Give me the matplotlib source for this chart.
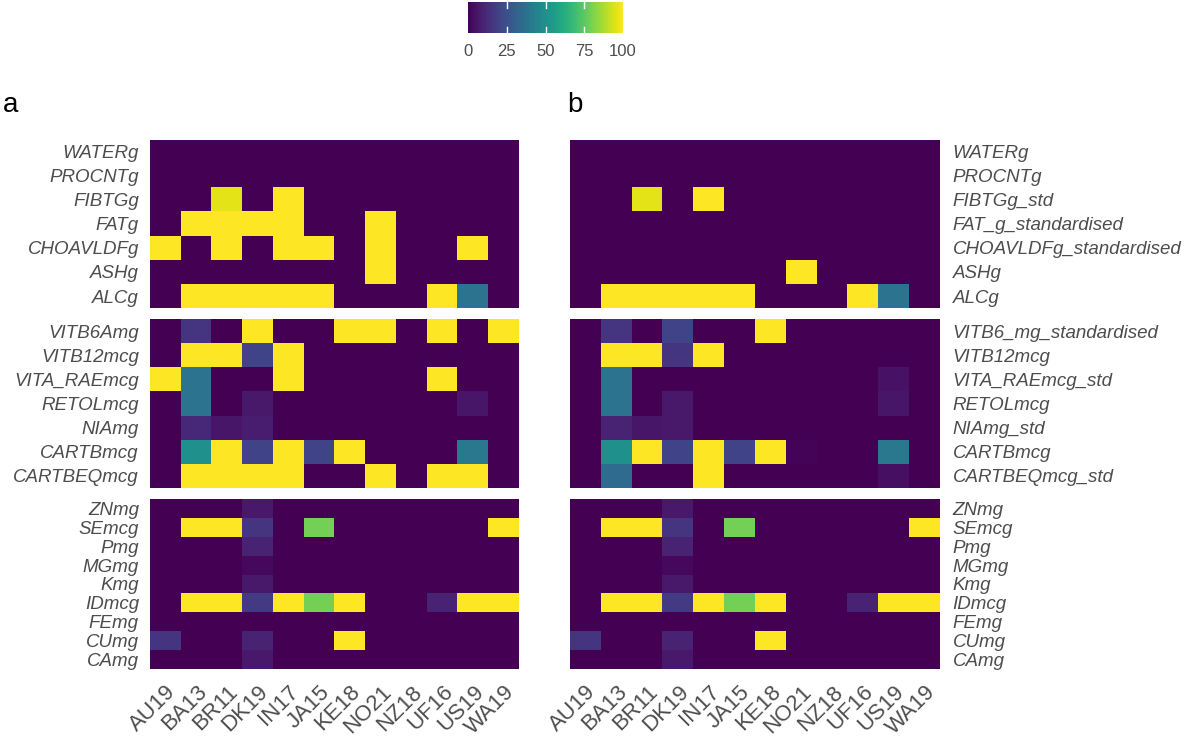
import numpy as np
import matplotlib
matplotlib.use("Agg")
import matplotlib.pyplot as plt

plt.rcParams['font.family'] = ['Liberation Sans', 'DejaVu Sans']

surveys = ['AU19', 'BA13', 'BR11', 'DK19', 'IN17', 'JA15', 'KE18',
           'NO21', 'NZ18', 'UF16', 'US19', 'WA19']

# panel a row names
rows_a1 = ['WATERg', 'PROCNTg', 'FIBTGg', 'FATg', 'CHOAVLDFg', 'ASHg', 'ALCg']
rows_a2 = ['VITB6Amg', 'VITB12mcg', 'VITA_RAEmcg', 'RETOLmcg', 'NIAmg',
           'CARTBmcg', 'CARTBEQmcg']
rows_3 = ['ZNmg', 'SEmcg', 'Pmg', 'MGmg', 'Kmg', 'IDmcg', 'FEmg', 'CUmg', 'CAmg']

# panel b row names
rows_b1 = ['WATERg', 'PROCNTg', 'FIBTGg_std', 'FAT_g_standardised',
           'CHOAVLDFg_standardised', 'ASHg', 'ALCg']
rows_b2 = ['VITB6_mg_standardised', 'VITB12mcg', 'VITA_RAEmcg_std', 'RETOLmcg',
           'NIAmg_std', 'CARTBmcg', 'CARTBEQmcg_std']

# % missing, one list per row, columns follow `surveys`
vals_a1 = [
    [0, 0, 0, 0, 0, 0, 0, 0, 0, 0, 0, 0],
    [0, 0, 0, 0, 0, 0, 0, 0, 0, 0, 0, 0],
    [0, 0, 96, 0, 100, 0, 0, 0, 0, 0, 0, 0],
    [0, 100, 100, 100, 100, 0, 0, 100, 0, 0, 0, 0],
    [100, 0, 100, 0, 100, 100, 0, 100, 0, 0, 100, 0],
    [0, 0, 0, 0, 0, 0, 0, 100, 0, 0, 0, 0],
    [0, 100, 100, 100, 100, 100, 0, 0, 0, 100, 38, 0],
]
vals_a2 = [
    [0, 15, 0, 100, 0, 0, 100, 100, 0, 100, 0, 100],
    [0, 100, 100, 20, 100, 0, 0, 0, 0, 0, 0, 0],
    [100, 38, 0, 0, 100, 0, 0, 0, 0, 100, 0, 0],
    [0, 38, 0, 7, 0, 0, 0, 0, 0, 0, 6, 0],
    [0, 11, 6, 8, 0, 0, 0, 0, 0, 0, 0, 0],
    [0, 50, 100, 20, 100, 20, 100, 0, 0, 0, 40, 0],
    [0, 100, 100, 100, 100, 0, 0, 100, 0, 100, 100, 0],
]
vals_3 = [
    [0, 0, 0, 7, 0, 0, 0, 0, 0, 0, 0, 0],
    [0, 100, 100, 15, 0, 79, 0, 0, 0, 0, 0, 100],
    [0, 0, 0, 10, 0, 0, 0, 0, 0, 0, 0, 0],
    [0, 0, 0, 2, 0, 0, 0, 0, 0, 0, 0, 0],
    [0, 0, 0, 7, 0, 0, 0, 0, 0, 0, 0, 0],
    [0, 100, 100, 17, 100, 79, 100, 0, 0, 10, 100, 100],
    [0, 0, 0, 0, 0, 0, 0, 0, 0, 0, 0, 0],
    [15, 0, 0, 10, 0, 0, 100, 0, 0, 0, 0, 0],
    [0, 0, 0, 7, 0, 0, 0, 0, 0, 0, 0, 0],
]
vals_b1 = [
    [0, 0, 0, 0, 0, 0, 0, 0, 0, 0, 0, 0],
    [0, 0, 0, 0, 0, 0, 0, 0, 0, 0, 0, 0],
    [0, 0, 96, 0, 100, 0, 0, 0, 0, 0, 0, 0],
    [0, 0, 0, 0, 0, 0, 0, 0, 0, 0, 0, 0],
    [0, 0, 0, 0, 0, 0, 0, 0, 0, 0, 0, 0],
    [0, 0, 0, 0, 0, 0, 0, 100, 0, 0, 0, 0],
    [0, 100, 100, 100, 100, 100, 0, 0, 0, 100, 38, 0],
]
vals_b2 = [
    [0, 15, 0, 20, 0, 0, 100, 0, 0, 0, 0, 0],
    [0, 100, 100, 15, 100, 0, 0, 0, 0, 0, 0, 0],
    [0, 38, 0, 0, 0, 0, 0, 0, 0, 0, 5, 0],
    [0, 38, 0, 7, 0, 0, 0, 0, 0, 0, 6, 0],
    [0, 10, 6, 7, 0, 0, 0, 0, 0, 0, 0, 0],
    [0, 50, 100, 20, 100, 20, 100, 1, 0, 0, 40, 0],
    [0, 35, 0, 0, 100, 0, 0, 0, 0, 0, 4, 0],
]

txt_col = '#4D4D4D'
W, H = 1200, 743
fig = plt.figure(figsize=(12, 7.43), dpi=100)


def px_axes(x0, y0, x1, y1):
    return fig.add_axes([x0 / W, 1 - y1 / H, (x1 - x0) / W, (y1 - y0) / H])


facet_y = [(140, 308), (319, 488), (499, 669)]
panels = [
    (150, 519, [(rows_a1, vals_a1), (rows_a2, vals_a2), (rows_3, vals_3)], 'left'),
    (570, 940, [(rows_b1, vals_b1), (rows_b2, vals_b2), (rows_3, vals_3)], 'right'),
]

for x0, x1, facets, side in panels:
    for i, (rows, vals) in enumerate(facets):
        y0, y1 = facet_y[i]
        ax = px_axes(x0, y0, x1, y1)
        ax.imshow(np.array(vals, dtype=float), cmap='viridis', vmin=0, vmax=100,
                  aspect='auto', interpolation='nearest')
        for s in ax.spines.values():
            s.set_visible(False)
        ax.set_yticks(range(len(rows)))
        ax.set_yticklabels(rows, fontsize=13.5, style='italic', color=txt_col)
        ax.tick_params(length=0)
        if side == 'right':
            ax.yaxis.tick_right()
            ax.tick_params(axis='y', pad=9)
        else:
            ax.tick_params(axis='y', pad=8)
        if i == 2:
            ax.set_xticks(range(len(surveys)))
            ax.set_xticklabels(surveys, rotation=45, ha='right', va='top',
                               rotation_mode='anchor', fontsize=16, color=txt_col)
            ax.tick_params(axis='x', pad=9)
        else:
            ax.set_xticks([])

fig.text(3 / W, 1 - 112 / H, 'a', fontsize=20, color='black')
fig.text(567 / W, 1 - 112 / H, 'b', fontsize=20, color='black')

# colour bar on top
cax = px_axes(468, 2, 623, 33)
grad = np.linspace(0, 100, 256).reshape(1, -1)
cax.imshow(grad, cmap='viridis', vmin=0, vmax=100, aspect='auto',
           extent=[0, 100, 0, 1])
for t in [25, 50, 75]:
    cax.plot([t, t], [0, 0.2], color='white', lw=1)
    cax.plot([t, t], [0.8, 1], color='white', lw=1)
cax.set_xlim(0, 100)
cax.set_ylim(0, 1)
for s in cax.spines.values():
    s.set_visible(False)
cax.set_yticks([])
cax.set_xticks([0, 25, 50, 75, 100])
cax.set_xticklabels(['0', '25', '50', '75', '100'], fontsize=12, color=txt_col)
cax.tick_params(length=0, pad=8)

fig.savefig('out.png', dpi=100)
